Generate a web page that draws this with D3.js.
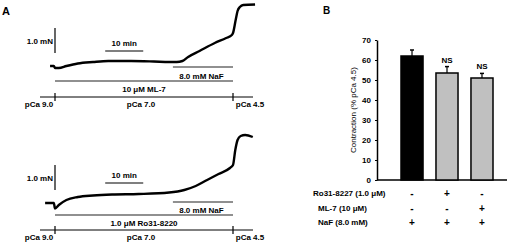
<!DOCTYPE html>
<html>
<head>
<meta charset="utf-8">
<script src="https://cdnjs.cloudflare.com/ajax/libs/d3/7.8.5/d3.min.js"></script>
<style>
  body { margin: 0; background: #fff; }
  text { font-family: "Liberation Sans", Arial, sans-serif; }
</style>
</head>
<body>
<div id="chart"></div>
<script>
// panel A traces: [time (min from pCa 9.0 -> 7.0 switch), force (mN)]
var traceML7 = [
  [-1.3, 0.08], [-0.3, 0.08], [0, 0], [1, 0], [3, 0.08], [6, 0.18], [10, 0.24],
  [14, 0.28], [20, 0.28], [26, 0.26], [30, 0.24], [32, 0.24], [33.5, 0.28],
  [35, 0.44], [38, 0.68], [42, 1.0], [45, 1.2], [46.5, 1.32], [46.8, 1.4],
  [47.5, 1.92], [48, 2.28], [48.6, 2.44], [49.5, 2.52], [52.6, 2.54]
];
var traceRo31 = [
  [-2.6, 0.2], [-0.3, 0.2], [0, -0.02], [1, 0.12], [3, 0.32], [6, 0.44], [10, 0.5],
  [15, 0.54], [22, 0.56], [30, 0.62], [34, 0.72], [37, 0.88], [40, 1.12],
  [43, 1.36], [46, 1.6], [46.8, 1.72], [47.4, 2.32], [48, 2.72], [48.8, 2.88],
  [50, 2.92], [52, 2.84]
];
var pcaLabels = ["pCa 9.0", "pCa 7.0", "pCa 4.5"];

// panel B
var groups = ["control", "ro31", "ml7"];
var contraction = [62, 53.5, 51];
var sem = [3, 3.2, 2.3];
var barFill = ["#000000", "#c0c0c0", "#c0c0c0"];
var signif = ["", "NS", "NS"];
var yTicks = [0, 10, 20, 30, 40, 50, 60, 70];
var rowLabels = ["Ro31-8227 (1.0 \u03bcM)", "ML-7 (10 \u03bcM)", "NaF (8.0 mM)"];
var rowSigns = [["-", "+", "-"], ["-", "-", "+"], ["+", "+", "+"]];

function init() {
  var w = 517, h = 245;
  var svg = d3.select("#chart").append("svg")
      .attr("width", w).attr("height", h);

  // ---------- panel A ----------
  var x = d3.scaleLinear().domain([0, 46.8]).range([55, 233]);
  var tEnd = 46.8, tNaF = 31;

  var panels = [
    { data: traceML7, y0: 0, base: 68, drug: "10 \u03bcM ML-7", barBase: 0.6 },
    { data: traceRo31, y0: 132, base: 208 - 132, drug: "1.0 \u03bcM Ro31-8220", barBase: 0.72 }
  ];

  svg.append("text").attr("x", 2).attr("y", 15)
    .style("font-size", "11px").style("font-weight", "bold").text("A");

  panels.forEach(function(p, i) {
    var g = svg.append("g").attr("transform", "translate(0," + p.y0 + ")");
    var y = d3.scaleLinear().domain([0, 1]).range([p.base, p.base - 25]);
    var off = i === 0 ? 0 : 1;

    // trace
    var line = d3.line().x(function(d) { return x(d[0]); }).y(function(d) { return y(d[1]); })
      .curve(d3.curveMonotoneX);
    g.append("path").datum(p.data).attr("d", line)
      .attr("fill", "none").attr("stroke", "#000").attr("stroke-width", 2.4)
      .attr("stroke-linejoin", "round");

    // 1.0 mN scale bar
    g.append("line").attr("x1", x(0)).attr("x2", x(0))
      .attr("y1", y(p.barBase)).attr("y2", y(p.barBase + 1))
      .attr("stroke", "#000").attr("stroke-width", 1.2);
    g.append("text").attr("x", x(0) - 2).attr("y", y(p.barBase + 0.5) + 3)
      .attr("text-anchor", "end").style("font-size", "8px").style("font-weight", "bold")
      .text("1.0 mN");

    // 10 min bar
    var yMin = i === 0 ? 51 : 51;
    g.append("line").attr("x1", x(13.2)).attr("x2", x(23.2))
      .attr("y1", yMin).attr("y2", yMin).attr("stroke", "#000").attr("stroke-width", 1.2);
    g.append("text").attr("x", x(18.2)).attr("y", yMin - 5).attr("text-anchor", "middle")
      .style("font-size", "8px").style("font-weight", "bold").text("10 min");

    // NaF bar
    var yNaF = i === 0 ? 67 : 70;
    g.append("line").attr("x1", x(tNaF)).attr("x2", x(tEnd))
      .attr("y1", yNaF).attr("y2", yNaF).attr("stroke", "#222").attr("stroke-width", 1.2);
    g.append("text").attr("x", x(38.5)).attr("y", yNaF + 12 - off).attr("text-anchor", "middle")
      .style("font-size", "8px").style("font-weight", "bold").text("8.0 mM NaF");

    // drug bar
    var yDrug = i === 0 ? 81 : 83;
    g.append("line").attr("x1", x(0)).attr("x2", x(tEnd))
      .attr("y1", yDrug).attr("y2", yDrug).attr("stroke", "#222").attr("stroke-width", 1.2);
    g.append("text").attr("x", x(23.4)).attr("y", yDrug + 11).attr("text-anchor", "middle")
      .style("font-size", "8px").style("font-weight", "bold").text(p.drug);

    // pCa axis
    var yAx = i === 0 ? 97 : 98;
    g.append("line").attr("x1", 40).attr("x2", 253)
      .attr("y1", yAx).attr("y2", yAx).attr("stroke", "#000").attr("stroke-width", 1);
    [0, tEnd].forEach(function(t) {
      g.append("line").attr("x1", x(t)).attr("x2", x(t))
        .attr("y1", yAx - 4).attr("y2", yAx + 4).attr("stroke", "#000").attr("stroke-width", 1.2);
    });
    var labX = [39, 141, 250];
    g.selectAll("text.pca").data(pcaLabels).enter().append("text")
      .attr("class", "pca")
      .attr("x", function(d, k) { return labX[k]; })
      .attr("y", yAx + 10)
      .attr("text-anchor", "middle").style("font-size", "8px").style("font-weight", "bold")
      .text(function(d) { return d; });
  });

  // ---------- panel B ----------
  svg.append("text").attr("x", 323).attr("y", 14)
    .style("font-size", "10px").style("font-weight", "bold").text("B");

  var xb = d3.scaleBand().domain(groups).range([383.5, 510.5])
    .paddingInner(0.37).paddingOuter(0.5);
  var yb = d3.scaleLinear().domain([0, 70]).range([180, 40]);

  var yAxis = d3.axisLeft(yb).tickValues(yTicks).tickSize(2).tickSizeOuter(0).tickPadding(4);
  var ga = svg.append("g").attr("transform", "translate(377,0)").call(yAxis);
  ga.select(".domain").attr("stroke-width", 1.5);
  ga.selectAll("text").style("font-size", "8px").style("font-weight", "bold")
    .attr("font-family", null);

  svg.append("line").attr("x1", 377).attr("x2", 507).attr("y1", 180).attr("y2", 180)
    .attr("stroke", "#000").attr("stroke-width", 1.5);

  svg.append("text")
    .attr("transform", "translate(356,110) rotate(-90)")
    .attr("text-anchor", "middle").style("font-size", "8px")
    .text("Contraction (% pCa 4.5)");

  // error bars
  groups.forEach(function(g, i) {
    var cx = xb(g) + xb.bandwidth() / 2;
    svg.append("line").attr("x1", cx).attr("x2", cx)
      .attr("y1", yb(contraction[i])).attr("y2", yb(contraction[i] + sem[i]))
      .attr("stroke", "#000").attr("stroke-width", 1.2);
    svg.append("line").attr("x1", cx - 2).attr("x2", cx + 2)
      .attr("y1", yb(contraction[i] + sem[i])).attr("y2", yb(contraction[i] + sem[i]))
      .attr("stroke", "#000").attr("stroke-width", 1.5);
    if (signif[i]) {
      svg.append("text").attr("x", cx).attr("y", yb(contraction[i] + sem[i]) - 4)
        .attr("text-anchor", "middle").style("font-size", "8px").style("font-weight", "bold")
        .text(signif[i]);
    }
  });

  svg.selectAll("rect.bar").data(groups).enter().append("rect")
    .attr("class", "bar")
    .attr("x", function(d) { return xb(d); })
    .attr("width", xb.bandwidth())
    .attr("y", function(d, i) { return yb(contraction[i]); })
    .attr("height", function(d, i) { return yb(0) - yb(contraction[i]); })
    .attr("fill", function(d, i) { return barFill[i]; })
    .attr("stroke", "#000").attr("stroke-width", 1.5);

  // treatment table
  var rowY = [196, 211, 225];
  rowLabels.forEach(function(lab, r) {
    svg.append("text").attr("x", r === 0 ? 313 : 318).attr("y", rowY[r])
      .style("font-size", "8px").style("font-weight", "bold").text(lab);
    groups.forEach(function(g, i) {
      svg.append("text").attr("x", xb(g) + xb.bandwidth() / 2).attr("y", rowY[r] + 1)
        .attr("text-anchor", "middle").style("font-size", "10px").style("font-weight", "bold")
        .text(rowSigns[r][i]);
    });
  });
}

window.onload = init;
</script>
</body>
</html>
